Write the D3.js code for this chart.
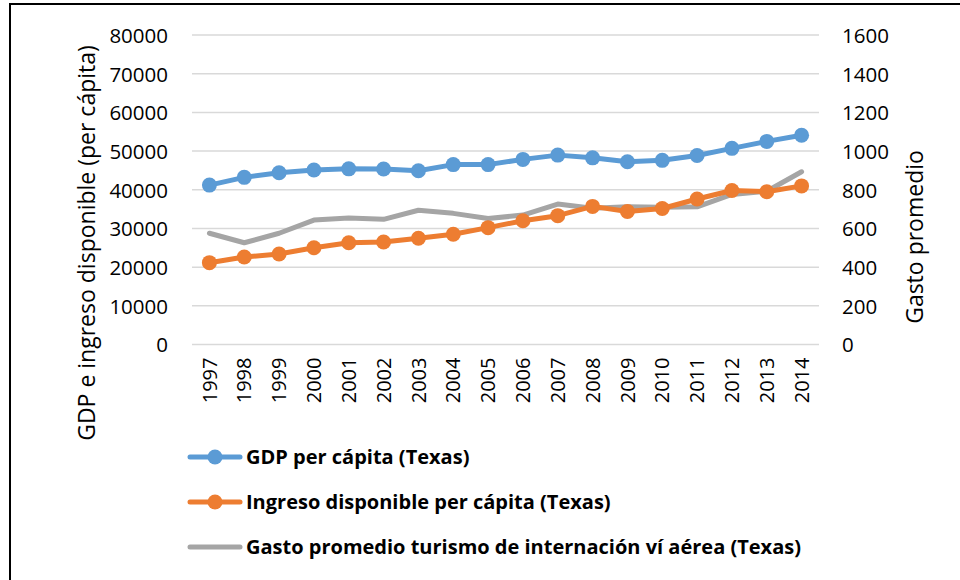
<!DOCTYPE html>
<html><head><meta charset="utf-8">
<script src="https://cdn.jsdelivr.net/npm/d3@7"></script>
<style>body{margin:0;background:#fff}svg{display:block}text{font-family:"Open Sans",sans-serif;fill:#000}</style>
</head><body><svg id="c" width="960" height="580"></svg>
<script>
const years = ["1997","1998","1999","2000","2001","2002","2003","2004","2005","2006","2007","2008","2009","2010","2011","2012","2013","2014"];
const gdp = [41200,43200,44400,45100,45400,45350,44900,46500,46500,47850,48950,48250,47250,47600,48850,50700,52500,54100];
const ingreso = [21150,22600,23400,25000,26300,26500,27450,28500,30200,32000,33300,35700,34400,35150,37600,39800,39500,41000];
const gasto = [575,526,575,643,654,647,694,678,651,669,726,704,712,709,712,776,792,893];
const leftTicks = [0,10000,20000,30000,40000,50000,60000,70000,80000];
const rightTicks = [0,200,400,600,800,1000,1200,1400,1600];
const seriesNames = ["GDP per cápita (Texas)","Ingreso disponible per cápita (Texas)","Gasto promedio turismo de internación ví aérea (Texas)"];
const colors = ["#5B9BD5","#ED7D31","#A5A5A5"];

const svg = d3.select("#c");
svg.append("rect").attr("x",10).attr("y",4).attr("width",980).attr("height",600)
  .attr("fill","#fff").attr("stroke","#000").attr("stroke-width",2);

const x = d3.scaleBand().domain(years).range([192,819]);
const yL = d3.scaleLinear().domain([0,80000]).range([344.5,35]);
const yR = d3.scaleLinear().domain([0,1600]).range([344.5,35]);
const cx = d => x(d)+x.bandwidth()/2;

// gridlines
svg.append("g").selectAll("line").data(leftTicks).join("line")
  .attr("x1",192).attr("x2",819).attr("y1",d=>yL(d)).attr("y2",d=>yL(d))
  .attr("stroke","#D9D9D9").attr("stroke-width",1.5);

// left axis
const gl = svg.append("g").attr("transform","translate(178,0)")
  .call(d3.axisLeft(yL).tickValues(leftTicks).tickSize(0).tickPadding(10).tickFormat(d3.format("d")));
gl.select(".domain").remove();
gl.selectAll("text").attr("font-size",20.5).attr("font-family","Open Sans").attr("dy","0.36em");

// right axis
const gr = svg.append("g").attr("transform","translate(832,0)")
  .call(d3.axisRight(yR).tickValues(rightTicks).tickSize(0).tickPadding(10).tickFormat(d3.format("d")));
gr.select(".domain").remove();
gr.selectAll("text").attr("font-size",20.5).attr("font-family","Open Sans").attr("dy","0.36em");

// x axis
const gx = svg.append("g").attr("transform","translate(0,344.5)")
  .call(d3.axisBottom(x).tickSize(0).tickPadding(0));
gx.select(".domain").remove();
gx.selectAll("text").attr("font-size",20).attr("font-family","Open Sans")
  .attr("transform","rotate(-90)").attr("text-anchor","end")
  .attr("x",-13).attr("y",0).attr("dy","0.36em");

// axis titles
svg.append("text").attr("transform","translate(95,243) rotate(-90)")
  .attr("text-anchor","middle").attr("font-size",23).text("GDP e ingreso disponible (per cápita)");
svg.append("text").attr("transform","translate(923,237) rotate(-90)")
  .attr("text-anchor","middle").attr("font-size",23).text("Gasto promedio");

// lines
const lineL = d3.line().x((d,i)=>cx(years[i])).y(d=>yL(d));
const lineR = d3.line().x((d,i)=>cx(years[i])).y(d=>yR(d));
svg.append("path").datum(gasto).attr("d",lineR).attr("fill","none")
  .attr("stroke",colors[2]).attr("stroke-width",5).attr("stroke-linejoin","round").attr("stroke-linecap","round");
[[gdp,colors[0]],[ingreso,colors[1]]].forEach(([s,c])=>{
  svg.append("path").datum(s).attr("d",lineL).attr("fill","none")
    .attr("stroke",c).attr("stroke-width",5).attr("stroke-linejoin","round").attr("stroke-linecap","round");
  svg.append("g").selectAll("circle").data(s).join("circle")
    .attr("cx",(d,i)=>cx(years[i])).attr("cy",d=>yL(d)).attr("r",7.5).attr("fill",c);
});

// legend
const legY = [457,502,547];
seriesNames.forEach((n,i)=>{
  const g = svg.append("g");
  g.append("line").attr("x1",190).attr("x2",240).attr("y1",legY[i]).attr("y2",legY[i])
    .attr("stroke",colors[i]).attr("stroke-width",5).attr("stroke-linecap","round");
  if(i<2) g.append("circle").attr("cx",215).attr("cy",legY[i]).attr("r",7.5).attr("fill",colors[i]);
  g.append("text").attr("x",246).attr("y",legY[i]).attr("dy","0.36em")
    .attr("font-size",20).attr("font-weight","bold").text(n);
});
</script></body></html>
